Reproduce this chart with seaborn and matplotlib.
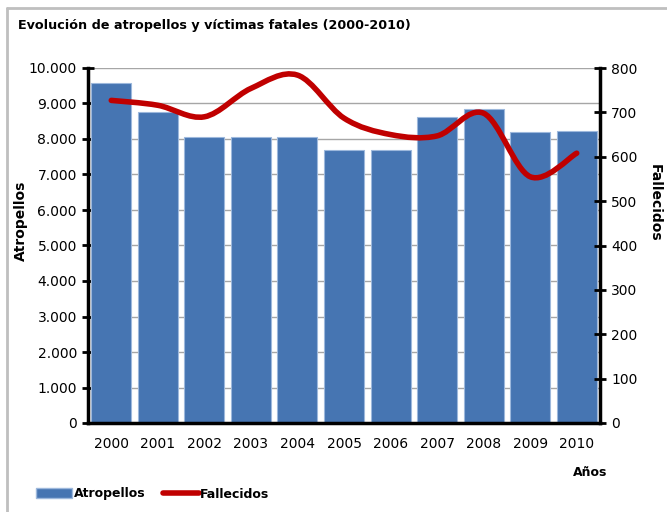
import numpy as np
import pandas as pd
import matplotlib
matplotlib.use("Agg")
import matplotlib.pyplot as plt
import seaborn as sns
from matplotlib.path import Path
from matplotlib.patches import PathPatch, Patch
from matplotlib.lines import Line2D
from matplotlib.ticker import FuncFormatter, MultipleLocator

# data
years = ["2000", "2001", "2002", "2003", "2004", "2005", "2006", "2007", "2008", "2009", "2010"]
atropellos = [9580, 8760, 8060, 8060, 8060, 7690, 7690, 8620, 8840, 8200, 8225]
fallecidos = [727, 716, 690, 754, 784, 687, 650, 647, 698, 555, 608]

bar_color = "#4675B2"
line_color = "#C00000"

sns.set_style("white")
plt.rcParams["font.family"] = ["DejaVu Sans"]
plt.rcParams["text.color"] = "black"
plt.rcParams["axes.labelcolor"] = "black"
plt.rcParams["xtick.color"] = "black"
plt.rcParams["ytick.color"] = "black"

df = pd.DataFrame({"Año": years, "Atropellos": atropellos, "Fallecidos": fallecidos})

fig = plt.figure(figsize=(6.67, 5.12), dpi=100)
ax = fig.add_axes([88 / 667, 1 - 423 / 512, 512 / 667, 355 / 512])

sns.barplot(data=df, x="Año", y="Atropellos", color=bar_color, saturation=1,
            width=0.86, edgecolor="#9DB8DC", linewidth=0.8, ax=ax)
ax.set_xlim(-0.5, len(years) - 0.5)
ax.set_ylim(0, 10000)
ax.yaxis.set_major_locator(MultipleLocator(1000))
ax.yaxis.set_major_formatter(FuncFormatter(lambda v, p: f"{int(v):,}".replace(",", ".")))
ax.set_axisbelow(True)
ax.yaxis.grid(True, color="#A6A6A6", lw=1)

# x ticks: marks between categories, labels centred
ax.set_xticks(np.arange(-0.5, len(years), 1.0))
ax.set_xticklabels([])
ax.set_xticks(np.arange(len(years)), minor=True)
ax.set_xticklabels(years, minor=True)
ax.tick_params(axis="x", which="major", direction="inout", length=8, width=2, color="black")
ax.tick_params(axis="x", which="minor", length=0, pad=10, labelsize=10)
ax.tick_params(axis="y", direction="inout", length=8, width=2, labelsize=10, pad=4)
ax.set_xlabel("")
ax.set_ylabel("Atropellos", fontsize=10, fontweight="bold")
ax.yaxis.set_label_coords((28 - 88) / 512, 0.57)

for s in ["left", "bottom"]:
    ax.spines[s].set_linewidth(2.5)
    ax.spines[s].set_color("black")
ax.spines["top"].set_visible(False)
ax.spines["right"].set_visible(False)

# second axis for Fallecidos
ax2 = ax.twinx()
ax2.set_ylim(0, 800)
ax2.yaxis.set_major_locator(MultipleLocator(100))
ax2.tick_params(axis="y", direction="inout", length=8, width=2, labelsize=10, pad=4)
ax2.set_ylabel("Fallecidos", fontsize=10, fontweight="bold", rotation=270, va="center")
ax2.yaxis.set_label_coords((655 - 88) / 512, 0.62)
ax2.spines["right"].set_linewidth(2.5)
ax2.spines["right"].set_color("black")
for s in ["left", "top", "bottom"]:
    ax2.spines[s].set_visible(False)

# smoothed line (Catmull-Rom as cubic bezier path through the data points)
xs = np.arange(len(years), dtype=float)
ys = np.array(fallecidos, dtype=float)
verts = [(xs[0], ys[0])]
codes = [Path.MOVETO]
for i in range(len(xs) - 1):
    p0 = np.array([xs[max(i - 1, 0)], ys[max(i - 1, 0)]])
    p1 = np.array([xs[i], ys[i]])
    p2 = np.array([xs[i + 1], ys[i + 1]])
    p3 = np.array([xs[min(i + 2, len(xs) - 1)], ys[min(i + 2, len(xs) - 1)]])
    c1 = p1 + (p2 - p0) / 6
    c2 = p2 - (p3 - p1) / 6
    verts += [tuple(c1), tuple(c2), tuple(p2)]
    codes += [Path.CURVE4] * 3
ax2.add_patch(PathPatch(Path(verts, codes), facecolor="none", edgecolor=line_color,
                        lw=4, capstyle="round", joinstyle="round", zorder=3))

# title, axis name, frame
fig.text(18 / 667, 1 - 26 / 512, "Evolución de atropellos y víctimas fatales (2000-2010)",
         fontsize=9.2, fontweight="bold", va="center", ha="left")
fig.text(590 / 667, 1 - 473 / 512, "Años", fontsize=9, fontweight="bold", ha="center", va="center")
fig.add_artist(Line2D([7 / 667, 7 / 667], [0, 1 - 8 / 512], color="#BFBFBF", lw=2,
                      transform=fig.transFigure))
fig.add_artist(Line2D([7 / 667, 1], [1 - 8 / 512, 1 - 8 / 512], color="#BFBFBF", lw=2,
                      transform=fig.transFigure))

handles = [Patch(facecolor=bar_color, edgecolor="#9DB8DC"),
           Line2D([], [], color=line_color, lw=4)]
leg = fig.legend(handles, ["Atropellos", "Fallecidos"], loc="center left",
                 bbox_to_anchor=(31 / 667, 1 - 494 / 512), ncol=2, frameon=False,
                 handlelength=2.9, handleheight=0.9, handletextpad=0.1, columnspacing=1.4,
                 borderaxespad=0, prop={"weight": "bold", "size": 9})

fig.savefig("out.png", dpi=100)
